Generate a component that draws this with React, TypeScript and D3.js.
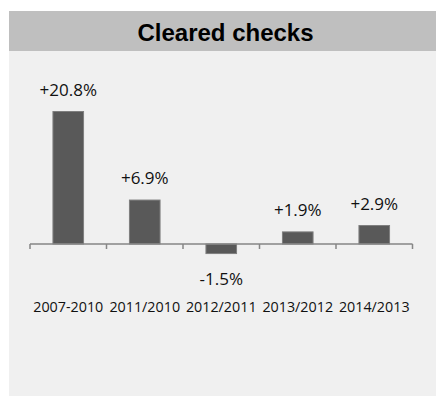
import React from "react";
import * as d3 from "d3";

const categories = ["2007-2010", "2011/2010", "2012/2011", "2013/2012", "2014/2013"];
const values = [20.8, 6.9, -1.5, 1.9, 2.9];
const valueLabels = ["+20.8%", "+6.9%", "-1.5%", "+1.9%", "+2.9%"];
const title = "Cleared checks";

const W = 436;
const H = 396;

export default function App() {
  const x = d3.scaleBand<string>().domain(categories).range([30, 412.5]).paddingInner(0.6).paddingOuter(0.3);
  const y = d3.scaleLinear().domain([0, 20.8]).range([244, 111.5]);
  const step = x.step();
  const x0 = 30;
  const ticks = d3.range(categories.length + 1).map((i) => x0 + i * step);
  const font = "'Open Sans', 'Noto Sans', sans-serif";
  return (
    <svg width={W} height={H} style={{ position: "absolute", left: 0, top: 0 }}>
      <rect x={0} y={0} width={W} height={H} fill="#ffffff" />
      <rect x={9} y={51} width={W - 9} height={H - 51} fill="#f0f0f0" />
      <rect x={9} y={11} width={W - 9} height={40} fill="#bfbfbf" />
      <text x={225.5} y={41} textAnchor="middle" fontFamily="'Liberation Sans', Arial, sans-serif" fontWeight="bold" fontSize={24} fill="#000">
        {title}
      </text>
      {values.map((v, i) => {
        const bx = x(categories[i])!;
        const top = Math.min(y(v), y(0));
        const h = Math.abs(y(v) - y(0));
        return (
          <rect key={"b" + i} x={bx} y={top} width={x.bandwidth()} height={h} fill="#595959" stroke="#7f7f7f" strokeWidth={1} />
        );
      })}
      <line x1={x0} x2={x0 + step * categories.length} y1={y(0)} y2={y(0)} stroke="#868686" strokeWidth={1.5} />
      {ticks.map((t, i) => (
        <line key={"t" + i} x1={t} x2={t} y1={y(0)} y2={y(0) + 5} stroke="#868686" strokeWidth={1.5} />
      ))}
      {values.map((v, i) => {
        const cx = x(categories[i])! + x.bandwidth() / 2;
        const ty = v >= 0 ? y(v) - 16 : y(v) + 31;
        return (
          <text key={"v" + i} x={cx} y={ty} textAnchor="middle" fontFamily={font} fontSize={17} fill="#111">
            {valueLabels[i]}
          </text>
        );
      })}
      {categories.map((c, i) => (
        <text key={"c" + i} x={x(c)! + x.bandwidth() / 2} y={311.5} textAnchor="middle" fontFamily={font} fontSize={14.3} fill="#111">
          {c}
        </text>
      ))}
    </svg>
  );
}
